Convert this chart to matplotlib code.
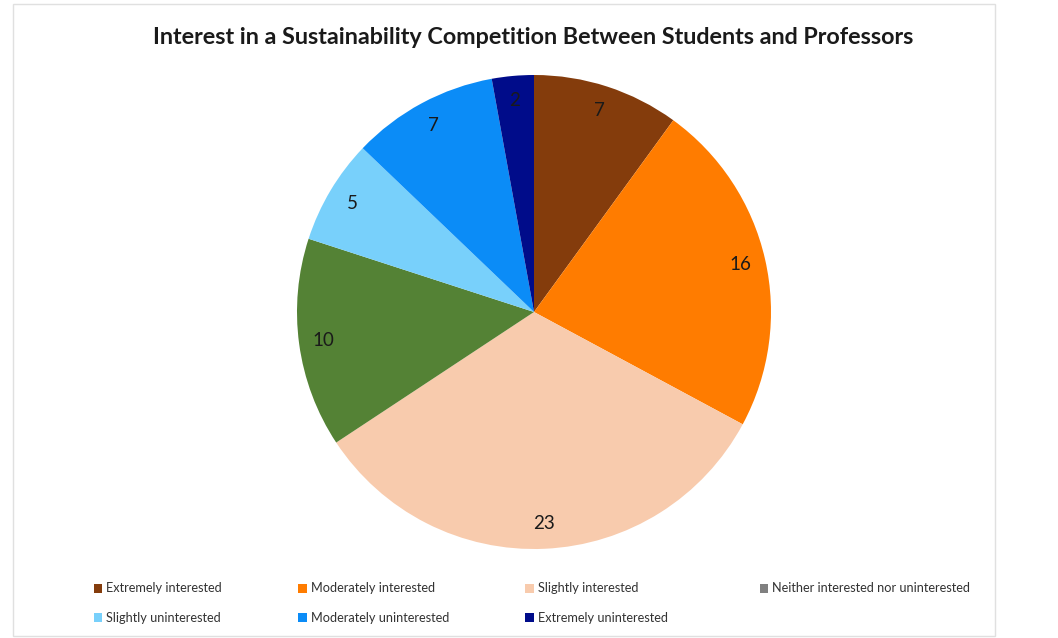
import matplotlib.pyplot as plt
from matplotlib.patches import Patch, Rectangle

# ── Data ──────────────────────────────────────────────────────────────────────
categories = ["Extremely interested", "Moderately interested", "Slightly interested",
              "Neither interested nor uninterested", "Slightly uninterested",
              "Moderately uninterested", "Extremely uninterested"]
counts = [7, 16, 23, 10, 5, 7, 2]
slice_colors = ["#843C0C", "#FF7C00", "#F8CBAD", "#548235", "#78D0FB", "#0B8CF7", "#000C8A"]
# legend swatches (the original shows grey for "Neither", though the slice is green)
legend_colors = ["#843C0C", "#FF7C00", "#F8CBAD", "#808080", "#78D0FB", "#0B8CF7", "#000C8A"]

plt.rcParams["font.family"] = ["Lato", "DejaVu Sans"]

W, H = 1058, 638
fig = plt.figure(figsize=(W / 100, H / 100), dpi=100)

# faint outer frame
fig.patches.append(Rectangle((13 / W, 2 / H), 982 / W, 632 / H, transform=fig.transFigure,
                             fill=False, edgecolor="#e0e0e0", lw=1.0))

cx, cy, r = 534, H - 312, 237
ax = fig.add_axes([(cx - r) / W, (cy - r) / H, 2 * r / W, 2 * r / H])
total = sum(counts)
wedges, _, autotexts = ax.pie(
    counts, colors=slice_colors, startangle=90, counterclock=False, radius=1,
    autopct=lambda p: f"{round(p * total / 100)}", pctdistance=0.895,
    wedgeprops=dict(linewidth=0), textprops=dict(fontsize=13.5, color="#1a1a1a"))
ax.set_xlim(-1, 1)
ax.set_ylim(-1, 1)
ax.set_aspect("equal")
ax.axis("off")

fig.text(533 / W, 1 - 38 / H, "Interest in a Sustainability Competition Between Students and Professors",
         ha="center", va="center", fontsize=16.8, fontweight="bold", color="#1a1a1a")

# legend: row-major order like Excel, matplotlib fills column-major
handles = [Patch(facecolor=c, edgecolor="none") for c in legend_colors]
leg_kw = dict(loc="upper left", frameon=False, fontsize=9.2, handlelength=0.7,
              handleheight=0.7, handletextpad=0.3, labelspacing=1.34)
order = [0, 4, 1, 5, 2, 6]
leg = fig.legend([handles[i] for i in order], [categories[i] for i in order],
                 ncol=3, bbox_to_anchor=(82 / W, 1 - 571 / H), columnspacing=5.95, **leg_kw)
leg2 = fig.legend([handles[3]], [categories[3]], ncol=1,
                  bbox_to_anchor=(748 / W, 1 - 571 / H), **leg_kw)
for t in leg.get_texts() + leg2.get_texts():
    t.set_color("#333333")

fig.savefig("out.png", dpi=100, facecolor="white")
